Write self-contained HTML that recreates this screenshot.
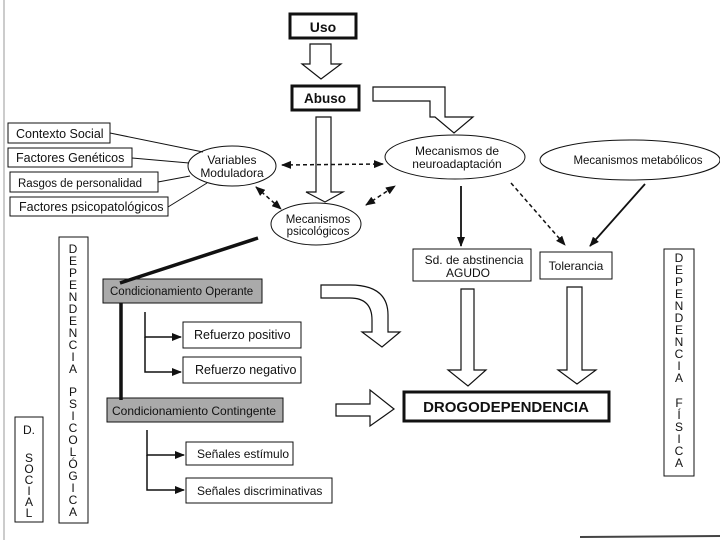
<!DOCTYPE html>
<html><head><meta charset="utf-8"><style>
body{margin:0;background:#fff}
svg{display:block}
text{font-family:"Liberation Sans",sans-serif;fill:#111}
</style></head><body>
<svg width="720" height="540" viewBox="0 0 720 540" xmlns="http://www.w3.org/2000/svg">
<defs>
<marker id="ah" markerWidth="10" markerHeight="8" refX="9" refY="4" orient="auto" markerUnits="userSpaceOnUse"><path d="M0,0 L10,4 L0,8 Z" fill="#111"/></marker>
<marker id="ahs" markerWidth="10" markerHeight="8" refX="1" refY="4" orient="auto" markerUnits="userSpaceOnUse"><path d="M10,0 L0,4 L10,8 Z" fill="#111"/></marker>
</defs>
<line x1="4" y1="0" x2="4" y2="540" stroke="#bbb" stroke-width="1.5"/>
<line x1="580" y1="537" x2="720" y2="536" stroke="#444" stroke-width="2"/>
<g fill="#fff" stroke="#111">
<rect x="290" y="14" width="66" height="24" stroke-width="3"/>
<rect x="292" y="86" width="67" height="24" stroke-width="3"/>
<path d="M310,44 H331 V64 H341 L321,79 L302,64 H310 Z" stroke-width="1.2"/>
<path d="M373,87 H445 V117 H473 L454,133 L435,117 H430 V101 H373 Z" stroke-width="1.2"/>
<path d="M316,117 H331 V192 H343 L325,202 L306,192 H316 Z" stroke-width="1.2"/>
<rect x="8" y="123" width="102" height="20" stroke-width="1"/>
<rect x="8" y="148" width="124" height="19" stroke-width="1"/>
<rect x="10" y="172" width="148" height="20" stroke-width="1"/>
<rect x="10" y="197" width="158" height="19" stroke-width="1"/>
<ellipse cx="232" cy="166" rx="44" ry="20" stroke-width="1"/>
<ellipse cx="316" cy="224" rx="45" ry="21" stroke-width="1"/>
<ellipse cx="455" cy="157" rx="70" ry="22" stroke-width="1"/>
<ellipse cx="630" cy="160" rx="90" ry="20" stroke-width="1"/>
<rect x="413" y="249" width="118" height="32" stroke-width="1"/>
<rect x="540" y="252" width="72" height="27" stroke-width="1"/>
<path d="M461,289 H474 V370 H486 L468,386 L448,370 H461 Z" stroke-width="1.2"/>
<path d="M567,287 H582 V370 H596 L577,384 L558,370 H567 Z" stroke-width="1.2"/>
<rect x="404" y="392" width="205" height="29" stroke-width="3"/>
<path d="M336,404 H370 V390 L394,409 L370,426 V416 H336 Z" stroke-width="1.2"/>
<path d="M321,285 H350 Q388,285 388,315 V332 H400 L382,347 L362,332 H372 V320 Q372,298 350,298 H321 Z" stroke-width="1.2"/>
<rect x="15" y="417" width="28" height="105" stroke-width="1"/>
<rect x="59" y="237" width="29" height="286" stroke-width="1"/>
<rect x="664" y="249" width="30" height="227" stroke-width="1"/>
<rect x="103" y="279" width="159" height="24" fill="#aaa" stroke-width="1"/>
<rect x="107" y="398" width="176" height="24" fill="#aaa" stroke-width="1"/>
<rect x="183" y="322" width="118" height="26" stroke-width="1"/>
<rect x="183" y="357" width="118" height="26" stroke-width="1"/>
<rect x="186" y="442" width="107" height="23" stroke-width="1"/>
<rect x="186" y="478" width="146" height="25" stroke-width="1"/>
</g>
<g stroke="#111" fill="none">
<line x1="110" y1="133" x2="203" y2="152"/>
<line x1="132" y1="158" x2="189" y2="163"/>
<line x1="158" y1="182" x2="190" y2="176"/>
<line x1="168" y1="207" x2="207" y2="183"/>
<line x1="282" y1="165" x2="383" y2="164" stroke-width="1.5" stroke-dasharray="4,3" marker-start="url(#ahs)" marker-end="url(#ah)"/>
<line x1="256" y1="187" x2="281" y2="209" stroke-width="1.5" stroke-dasharray="4,3" marker-start="url(#ahs)" marker-end="url(#ah)"/>
<line x1="366" y1="205" x2="395" y2="186" stroke-width="1.5" stroke-dasharray="4,3" marker-start="url(#ahs)" marker-end="url(#ah)"/>
<line x1="511" y1="183" x2="565" y2="245" stroke-width="1.5" stroke-dasharray="4,3" marker-end="url(#ah)"/>
<line x1="461" y1="186" x2="461" y2="246" stroke-width="1.8" marker-end="url(#ah)"/>
<line x1="645" y1="184" x2="590" y2="246" stroke-width="1.8" marker-end="url(#ah)"/>
<line x1="120" y1="283" x2="258" y2="238" stroke-width="3.5"/>
<line x1="121" y1="303" x2="121" y2="400" stroke-width="3.5"/>
<polyline points="145,312 145,337 181,337" stroke-width="1.5" marker-end="url(#ah)"/>
<polyline points="145,337 145,372 181,372" stroke-width="1.5" marker-end="url(#ah)"/>
<polyline points="147,430 147,455 184,455" stroke-width="1.5" marker-end="url(#ah)"/>
<polyline points="147,455 147,490 184,490" stroke-width="1.5" marker-end="url(#ah)"/>
</g>
<g font-size="12.5">
<text x="323" y="32" text-anchor="middle" font-weight="bold" font-size="14">Uso</text>
<text x="325" y="103" text-anchor="middle" font-weight="bold" font-size="13.5">Abuso</text>
<text x="16" y="138">Contexto Social</text>
<text x="16" y="162">Factores Genéticos</text>
<text x="18" y="187" font-size="11.5">Rasgos de personalidad</text>
<text x="19" y="211">Factores psicopatológicos</text>
<text x="232" y="164" text-anchor="middle" font-size="12">Variables</text>
<text x="232" y="177" text-anchor="middle" font-size="12">Moduladora</text>
<text x="318" y="223" text-anchor="middle" font-size="11.5">Mecanismos</text>
<text x="318" y="235" text-anchor="middle" font-size="11.5">psicológicos</text>
<text x="457" y="155" text-anchor="middle" font-size="12">Mecanismos de</text>
<text x="457" y="168" text-anchor="middle" font-size="12">neuroadaptación</text>
<text x="638" y="164" text-anchor="middle" font-size="11.5">Mecanismos metabólicos</text>
<text x="474" y="264" text-anchor="middle" font-size="12">Sd. de abstinencia</text>
<text x="468" y="277" text-anchor="middle" font-size="12">AGUDO</text>
<text x="576" y="270" text-anchor="middle" font-size="12">Tolerancia</text>
<text x="506" y="412" text-anchor="middle" font-weight="bold" font-size="15">DROGODEPENDENCIA</text>
<text x="110" y="295" font-size="11.5">Condicionamiento Operante</text>
<text x="112" y="415" font-size="12">Condicionamiento Contingente</text>
<text x="194" y="339">Refuerzo positivo</text>
<text x="195" y="374">Refuerzo negativo</text>
<text x="197" y="458" font-size="12">Señales estímulo</text>
<text x="197" y="495" font-size="12">Señales discriminativas</text>
</g>
<g font-size="12" text-anchor="middle">
<text x="29" y="434">D.</text>
<text x="29" y="462">S</text><text x="29" y="473">O</text><text x="29" y="484">C</text><text x="29" y="495">I</text><text x="29" y="506">A</text><text x="29" y="517">L</text>
</g>
<g font-size="12" text-anchor="middle">
<text x="73" y="253">D</text><text x="73" y="265">E</text><text x="73" y="277">P</text><text x="73" y="289">E</text><text x="73" y="301">N</text><text x="73" y="313">D</text><text x="73" y="325">E</text><text x="73" y="337">N</text><text x="73" y="349">C</text><text x="73" y="361">I</text><text x="73" y="373">A</text>
<text x="73" y="396">P</text><text x="73" y="408">S</text><text x="73" y="420">I</text><text x="73" y="432">C</text><text x="73" y="444">O</text><text x="73" y="456">L</text><text x="73" y="468">Ó</text><text x="73" y="480">G</text><text x="73" y="492">I</text><text x="73" y="504">C</text><text x="73" y="516">A</text>
</g>
<g font-size="12" text-anchor="middle">
<text x="679" y="262">D</text><text x="679" y="274">E</text><text x="679" y="286">P</text><text x="679" y="298">E</text><text x="679" y="310">N</text><text x="679" y="322">D</text><text x="679" y="334">E</text><text x="679" y="346">N</text><text x="679" y="358">C</text><text x="679" y="370">I</text><text x="679" y="382">A</text>
<text x="679" y="407">F</text><text x="679" y="419">Í</text><text x="679" y="431">S</text><text x="679" y="443">I</text><text x="679" y="455">C</text><text x="679" y="467">A</text>
</g>
</svg>
</body></html>
